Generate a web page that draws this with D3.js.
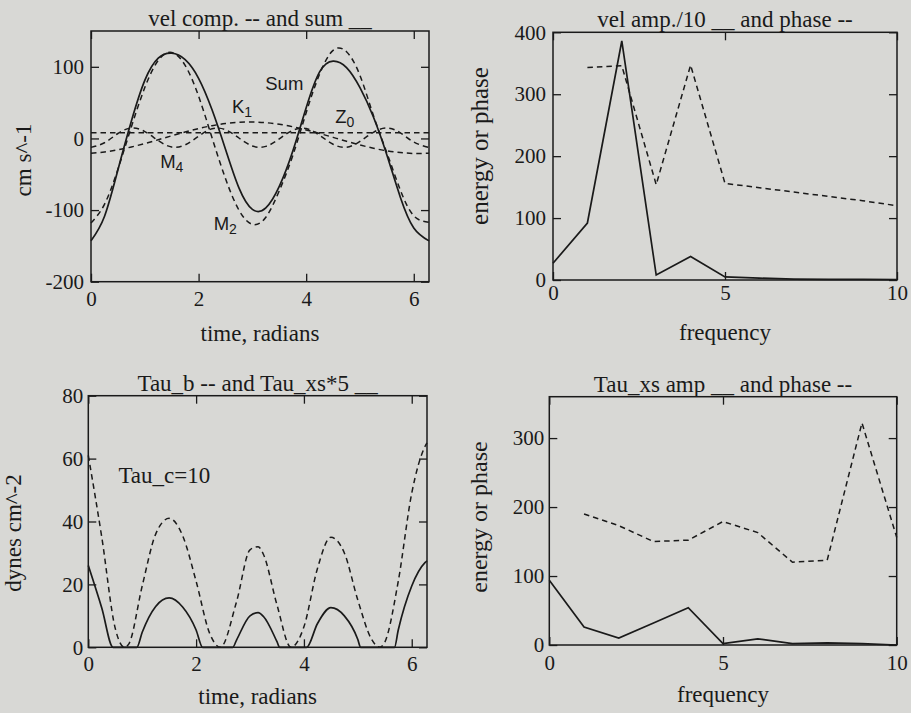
<!DOCTYPE html>
<html lang="en">
<head>
<meta charset="UTF-8">
<title>Velocity components, stress and spectra</title>
<script src="https://d3js.org/d3.v7.min.js"></script>
<style>
  body { margin: 0; background-color: #d8d8d5; }
  svg { display: block; }
  text { font-family: 'Liberation Serif', 'Times New Roman', serif; fill: #1a1a1a; }
  .axis text { font-size: 21px; font-family: 'Liberation Serif', serif; }
  .title, .xlabel, .ylabel { font-size: 23px; }
  .clabel { font-family: 'Liberation Sans', Arial, sans-serif; font-size: 18.5px; }
  .box { fill: none; stroke: #1a1a1a; stroke-width: 1.5; }
  .tick line { stroke: #1a1a1a; stroke-width: 1.3; }
  .solid { fill: none; stroke: #1a1a1a; stroke-width: 1.7; }
  .dashed { fill: none; stroke: #1a1a1a; stroke-width: 1.5; stroke-dasharray: 5.5,4; }
</style>
</head>
<body>
<svg width="911" height="713"></svg>
<script>
// ---- top left: velocity components (radians) ----
const timeGrid = [0, 0.25, 0.5, 0.75, 1, 1.25, 1.5, 1.75, 2, 2.25, 2.5, 2.75, 3, 3.25,
                  3.5, 3.75, 4, 4.25, 4.5, 4.75, 5, 5.25, 5.5, 5.75, 6, 6.283];
const velSum = [-143, -109, -44, 24, 81, 112, 119, 110, 84, 40, -15, -69, -99, -97,
                -67, -18, 43, 93, 108, 99, 71, 30, -23, -82, -125, -143];
const velM2  = [-118, -92, -43, 16, 71, 109, 120, 102, 59, 1, -56, -100, -120, -110,
                -73, -24, 36, 90, 123, 121, 88, 32, -20, -72, -108, -117];
const velK1  = [-20.6, -18.9, -15.9, -11.9, -7.1, -1.8, 3.7, 9.0, 13.8, 17.8, 20.8, 22.6, 23.0, 22.0,
                19.8, 16.3, 11.9, 6.9, 1.5, -4.0, -9.1, -13.7, -17.3, -19.7, -20.9, -20.6];
const velM4  = [-12.5, -6.0, 6.9, 14.4, 9.6, -3.1, -12.0, -9.0, 3.2, 13.4, 12.2, 0.6, -10.5, -11.1,
                -0.6, 11.4, 13.8, 4.4, -8.1, -12.3, -4.2, 8.6, 14.5, 7.9, -5.0, -12.5];
const z0Time = [0, 6.283];
const velZ0  = [8, 8];

// ---- top right: velocity amplitude / phase spectrum ----
const freq = [0, 1, 2, 3, 4, 5, 6, 7, 8, 9, 10];
const velAmp = [27, 92, 386, 8, 38, 5, 3, 1.5, 1, 1, 0.5];
const phaseFreq = [1, 2, 3, 4, 5, 6, 7, 8, 9, 10];
const velPhase = [343, 346, 154, 347, 156, 149, 142, 135, 128, 120];

// ---- bottom left: bed stress ----
const tauTimeB = [0, 0.25, 0.5, 0.67, 0.75, 1, 1.25, 1.5, 1.75, 2, 2.25, 2.45, 2.75, 3, 3.15,
                  3.25, 3.5, 3.76, 4, 4.25, 4.5, 4.75, 5, 5.25, 5.41, 5.5, 5.75, 6, 6.25, 6.283];
const tauB = [61, 35, 6, 0, 1, 19.5, 36, 41, 35.5, 21, 4.5, 0, 14.5, 31, 32,
              29.5, 13.5, 0, 6.5, 25, 35, 30, 15, 2.7, 0, 1.6, 21, 49, 64, 65];
const tauTimeXs = [0, 0.25, 0.46, 0.9, 1, 1.25, 1.5, 1.75, 2, 2.12, 2.68, 2.75, 3, 3.15,
                   3.25, 3.5, 3.55, 4.05, 4.25, 4.5, 4.75, 5, 5.05, 5.68, 5.75, 6, 6.25, 6.283];
const tauXs = [26, 12.5, 0, 0, 4.8, 13, 15.7, 12.8, 5.5, 0, 0, 2.3, 10, 11,
               9.8, 1.8, 0, 0, 7.5, 12.6, 10, 2.5, 0, 0, 5.5, 19.5, 27, 27.5];

// ---- bottom right: excess stress amplitude / phase spectrum ----
const tauAmp = [94, 26, 10, 32, 54, 2, 9, 2, 3, 2, 0];
const tauPhase = [190, 173, 150, 152, 179, 163, 120, 123, 322, 156];

// tick labels
const timeTicks = [0, 2, 4, 6];
const velTicks = [-200, -100, 0, 100];
const freqTicks = [0, 5, 10];
const energyTicks = [0, 100, 200, 300, 400];
const energyTicks2 = [0, 100, 200, 300];
const tauTicks = [0, 20, 40, 60, 80];

const svg = d3.select("svg");
const zip = (xs, ys) => xs.map((v, i) => [v, ys[i]]);

function panel(p) {
  const x = d3.scaleLinear().domain(p.xDomain).range([p.left, p.right]);
  const y = d3.scaleLinear().domain(p.yDomain).range([p.bottom, p.top]);
  const g = svg.append("g");

  // inward ticks on all four sides (labels only bottom/left)
  g.append("g").attr("class", "axis").attr("transform", `translate(0,${p.bottom})`)
    .call(d3.axisBottom(x).tickValues(p.xTicks).tickSizeInner(-8).tickSizeOuter(0)
      .tickPadding(p.xPad).tickFormat(d => String(d)))
    .call(a => a.select(".domain").remove());
  g.append("g").attr("class", "axis").attr("transform", `translate(0,${p.top})`)
    .call(d3.axisTop(x).tickValues(p.xTicks).tickSizeInner(-8).tickSizeOuter(0).tickFormat(""))
    .call(a => a.select(".domain").remove());
  g.append("g").attr("class", "axis").attr("transform", `translate(${p.left},0)`)
    .call(d3.axisLeft(y).tickValues(p.yTicks).tickSizeInner(-8).tickSizeOuter(0)
      .tickPadding(p.yPad).tickFormat(d => String(d)))
    .call(a => a.select(".domain").remove());
  g.append("g").attr("class", "axis").attr("transform", `translate(${p.right},0)`)
    .call(d3.axisRight(y).tickValues(p.yTicks).tickSizeInner(-8).tickSizeOuter(0).tickFormat(""))
    .call(a => a.select(".domain").remove());

  g.append("rect").attr("class", "box")
    .attr("x", p.left).attr("y", p.top)
    .attr("width", p.right - p.left).attr("height", p.bottom - p.top);

  p.series.forEach(s => {
    const line = d3.line().x(d => x(d[0])).y(d => y(d[1])).curve(s.curve || d3.curveLinear);
    g.append("path").attr("class", s.dashed ? "dashed" : "solid").attr("d", line(s.data));
  });

  g.append("text").attr("class", "title").attr("text-anchor", "middle")
    .attr("x", (p.left + p.right) / 2).attr("y", p.top - 5).text(p.title);
  g.append("text").attr("class", "xlabel").attr("text-anchor", "middle")
    .attr("x", (p.left + p.right) / 2).attr("y", p.xLabelY).text(p.xLabel);
  g.append("text").attr("class", "ylabel").attr("text-anchor", "middle")
    .attr("transform", `translate(${p.yLabelX},${p.yLabelY}) rotate(-90)`)
    .style("font-size", p.yLabelSize || null)
    .text(p.yLabel);

  return {g, x, y};
}

// top left
const p1 = panel({
  left: 91, right: 429, top: 31, bottom: 281.7,
  xDomain: [0, 6.2832], yDomain: [-200, 150],
  xTicks: timeTicks, yTicks: velTicks, xPad: 9, yPad: 7,
  title: "vel comp. -- and sum __",
  xLabel: "time, radians", xLabelY: 341,
  yLabel: "cm s^-1", yLabelX: 31, yLabelY: 160,
  series: [
    {data: zip(timeGrid, velM2), dashed: true, curve: d3.curveNatural},
    {data: zip(timeGrid, velK1), dashed: true, curve: d3.curveNatural},
    {data: zip(timeGrid, velM4), dashed: true, curve: d3.curveNatural},
    {data: zip(z0Time, velZ0), dashed: true},
    {data: zip(timeGrid, velSum), curve: d3.curveNatural}
  ]
});

// curve names in the top-left panel
const curveNames = [
  {name: "Sum", sub: "", t: 3.24, v: 67},
  {name: "K", sub: "1", t: 2.62, v: 35.5},
  {name: "Z", sub: "0", t: 4.54, v: 21.5},
  {name: "M", sub: "4", t: 1.285, v: -41.4},
  {name: "M", sub: "2", t: 2.28, v: -127.7}
];
curveNames.forEach(c => {
  const t = p1.g.append("text").attr("class", "clabel")
    .attr("x", p1.x(c.t)).attr("y", p1.y(c.v)).text(c.name);
  if (c.sub) t.append("tspan").attr("font-size", 14).attr("dy", 4).text(c.sub);
});

// top right
panel({
  left: 553, right: 897, top: 32.3, bottom: 280,
  xDomain: [0, 10], yDomain: [0, 400],
  xTicks: freqTicks, yTicks: energyTicks, xPad: 5, yPad: 7,
  title: "vel amp./10 __ and phase --",
  xLabel: "frequency", xLabelY: 340,
  yLabel: "energy or phase", yLabelX: 488, yLabelY: 146, yLabelSize: "25px",
  series: [
    {data: zip(freq, velAmp)},
    {data: zip(phaseFreq, velPhase), dashed: true}
  ]
});

// bottom left
const p3 = panel({
  left: 88.3, right: 427, top: 395.7, bottom: 647.3,
  xDomain: [0, 6.2832], yDomain: [0, 80],
  xTicks: timeTicks, yTicks: tauTicks, xPad: 9, yPad: 5,
  title: "Tau_b -- and Tau_xs*5 __",
  xLabel: "time, radians", xLabelY: 704,
  yLabel: "dynes cm^-2", yLabelX: 21, yLabelY: 533,
  series: [
    {data: zip(tauTimeB, tauB), dashed: true, curve: d3.curveMonotoneX},
    {data: zip(tauTimeXs, tauXs), curve: d3.curveMonotoneX}
  ]
});
p3.g.append("text").attr("class", "title")
  .attr("x", p3.x(0.558)).attr("y", p3.y(52.1)).text("Tau_c=10");

// bottom right
panel({
  left: 549.3, right: 896.7, top: 396.7, bottom: 645,
  xDomain: [0, 10], yDomain: [0, 360],
  xTicks: freqTicks, yTicks: energyTicks2, xPad: 10, yPad: 5,
  title: "Tau_xs amp __ and phase --",
  xLabel: "frequency", xLabelY: 702,
  yLabel: "energy or phase", yLabelX: 487, yLabelY: 517, yLabelSize: "24px",
  series: [
    {data: zip(freq, tauAmp)},
    {data: zip(phaseFreq, tauPhase), dashed: true}
  ]
});
</script>
</body>
</html>
